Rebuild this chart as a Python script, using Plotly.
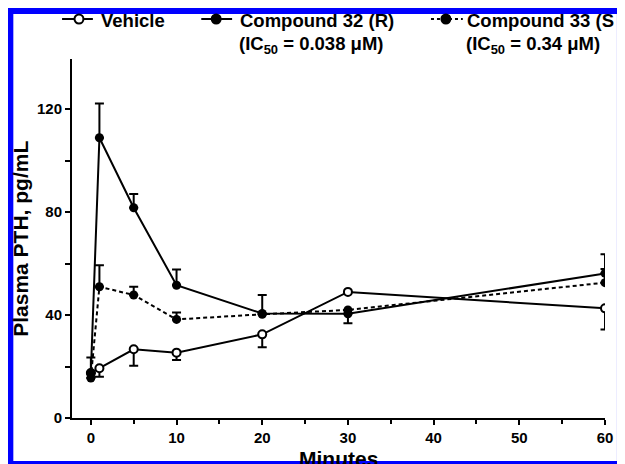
import plotly.graph_objects as go

# ---- data ----
minutes = [0, 1, 5, 10, 20, 30, 60]

vehicle = [17.5, 19.3, 26.7, 25.4, 32.5, 49.0, 42.6]
vehicle_err_up = [0, 0, 0, 0, 0, 0, 0]
vehicle_err_down = [0, 3.3, 6.4, 2.9, 5.0, 0, 8.2]

cmpd32 = [17.5, 108.9, 81.7, 51.6, 40.6, 40.5, 56.2]
cmpd32_err_up = [6.0, 13.3, 5.3, 6.1, 7.2, 0, 7.4]
cmpd32_err_down = [0, 0, 0, 0, 0, 3.7, 0]

cmpd33 = [15.5, 51.0, 47.8, 38.3, 40.3, 42.0, 52.6]
cmpd33_err_up = [0, 8.4, 3.2, 2.7, 0, 0, 5.3]
cmpd33_err_down = [0, 0, 0, 0, 0, 0, 0]

x_ticks = [0, 10, 20, 30, 40, 50, 60]
y_ticks = [0, 40, 80, 120]

legend_names = ["Vehicle", "Compound 32 (R)", "Compound 33 (S"]
legend_sub = ["", "(IC<sub>50</sub> = 0.038 μM)", "(IC<sub>50</sub> = 0.34 μM)"]

# ---- layout geometry (window pixels; the page body adds an 8px offset) ----
OFF = 8
W, H = 625 - OFF, 464 - OFF
PLOT_L, PLOT_R, PLOT_T, PLOT_B = 72, 608, 59, 418  # window coords
L = PLOT_L - OFF
R = (W + OFF) - PLOT_R
T = PLOT_T - OFF
B = (H + OFF) - PLOT_B
PW, PH = W - L - R, H - T - B
FONT = "Liberation Sans"
BLUE = "#0000FF"


def xp(px):  # window x pixel -> paper
    return (px - OFF - L) / PW


def yp(py):  # window y pixel -> paper
    return (H - B - (py - OFF)) / PH


fig = go.Figure()

common_err = dict(type="data", symmetric=False, color="black", thickness=2, width=4.5)

fig.add_trace(go.Scatter(
    x=minutes, y=vehicle, mode="lines+markers", name=legend_names[0],
    line=dict(color="black", width=2),
    marker=dict(symbol="circle", size=8, color="white", line=dict(color="black", width=2)),
    error_y=dict(array=vehicle_err_up, arrayminus=vehicle_err_down, **common_err),
))
fig.add_trace(go.Scatter(
    x=minutes, y=cmpd32, mode="lines+markers", name=legend_names[1],
    line=dict(color="black", width=2),
    marker=dict(symbol="circle", size=9, color="black"),
    error_y=dict(array=cmpd32_err_up, arrayminus=cmpd32_err_down, **common_err),
))
fig.add_trace(go.Scatter(
    x=minutes, y=cmpd33, mode="lines+markers", name=legend_names[2],
    line=dict(color="black", width=2, dash="4px,3px"),
    marker=dict(symbol="circle", size=9, color="black"),
    error_y=dict(array=cmpd33_err_up, arrayminus=cmpd33_err_down, **common_err),
))

tickfont = dict(family=FONT, size=15, color="black", weight="bold")
fig.update_xaxes(
    range=[-2.2, 60], tickvals=x_ticks, ticktext=[str(v) for v in x_ticks],
    showline=True, linecolor="black", linewidth=2, ticks="outside", ticklen=5,
    tickwidth=2, tickcolor="black", showgrid=False, zeroline=False,
    tickfont=tickfont,
    minor=dict(dtick=5, tick0=0, ticks="outside", ticklen=4, tickwidth=2, tickcolor="black", showgrid=False),
)
fig.update_yaxes(
    range=[0, 139.5], tickvals=y_ticks, ticktext=[str(v) for v in y_ticks],
    showline=True, linecolor="black", linewidth=2, ticks="outside", ticklen=5,
    tickwidth=2, tickcolor="black", showgrid=False, zeroline=False,
    tickfont=tickfont,
    minor=dict(dtick=20, tick0=0, ticks="outside", ticklen=5, tickwidth=2, tickcolor="black", showgrid=False),
)

annotations = []
shapes = []

# white interior inside the blue frame (paper background is blue)
shapes.append(dict(type="rect", xref="paper", yref="paper", layer="below",
                   x0=xp(13), x1=xp(620), y0=yp(461), y1=yp(14),
                   fillcolor="white", line=dict(width=0)))

# axis titles
titlefont = dict(family=FONT, size=21, color="black", weight="bold")
annotations.append(dict(
    text="Plasma PTH, pg/mL", xref="paper", yref="paper", x=xp(20), y=0.5,
    xanchor="center", yanchor="middle", textangle=-90, showarrow=False,
    font=titlefont))
annotations.append(dict(
    text="Minutes", xref="paper", yref="paper", x=xp(340), y=yp(458.5),
    xanchor="center", yanchor="middle", showarrow=False,
    font=titlefont))

# custom legend
legfont = dict(family=FONT, size=18.5, color="black", weight="bold")
leg_line_x = [(62, 93), (202, 233), (433, 465)]
leg_marker_x = [79, 217, 448]
leg_text_x = [99, 239, 467]
leg_y = 19
row2_y = 44
dashes = ["solid", "solid", "dot"]
for i in range(3):
    x0, x1 = leg_line_x[i]
    shapes.append(dict(type="line", xref="paper", yref="paper",
                       x0=xp(x0), x1=xp(x1), y0=yp(leg_y), y1=yp(leg_y),
                       line=dict(color="black", width=2, dash=dashes[i])))
    r = 4.5
    cx = leg_marker_x[i]
    shapes.append(dict(type="circle", xref="paper", yref="paper",
                       x0=xp(cx - r), x1=xp(cx + r), y0=yp(leg_y + r), y1=yp(leg_y - r),
                       fillcolor="white" if i == 0 else "black",
                       line=dict(color="black", width=2)))
    annotations.append(dict(
        text=legend_names[i], xref="paper", yref="paper", x=xp(leg_text_x[i]), y=yp(leg_y + 1),
        xanchor="left", yanchor="middle", showarrow=False, font=legfont))
    if legend_sub[i]:
        annotations.append(dict(
            text=legend_sub[i], xref="paper", yref="paper", x=xp(leg_text_x[i] - 1), y=yp(row2_y + 1),
            xanchor="left", yanchor="middle", showarrow=False, font=legfont))

fig.update_layout(
    width=W, height=H, margin=dict(l=L, r=R, t=T, b=B),
    paper_bgcolor=BLUE, plot_bgcolor="white", showlegend=False,
    annotations=annotations, shapes=shapes,
)

fig.write_html("out.html")
